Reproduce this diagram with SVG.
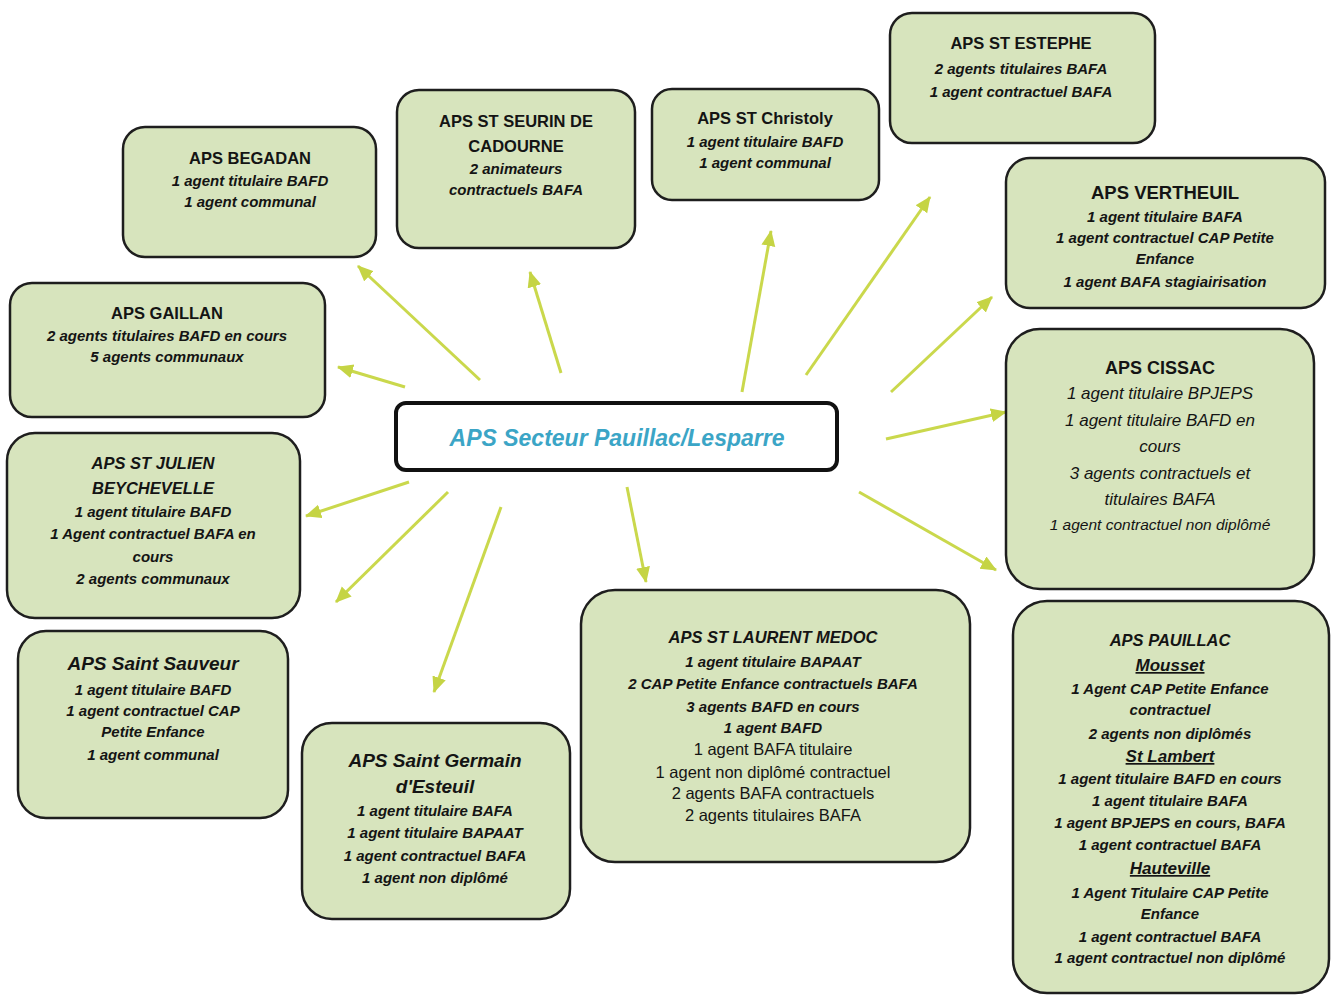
<svg xmlns="http://www.w3.org/2000/svg" width="1331" height="996" viewBox="0 0 1331 996">
<style>
.box{fill:#d7e4bd;stroke:#1e1e1e;stroke-width:2.5}
text{font-family:"Liberation Sans",Arial,sans-serif;text-anchor:middle;fill:#141414}
.t{font-size:16.5px;font-weight:bold}
.ti{font-size:16.5px;font-weight:bold;font-style:italic}
.l{font-size:15px;font-weight:bold;font-style:italic}
.r{font-size:16.5px;font-weight:normal}
.c{font-size:17px;font-style:italic}
.u{font-size:17px;font-weight:bold;font-style:italic;text-decoration:underline}
.conn line{stroke:#cad84c;stroke-width:3;marker-end:url(#ah)}
</style>
<defs>
<marker id="ah" markerUnits="userSpaceOnUse" markerWidth="18" markerHeight="16" refX="15" refY="7" orient="auto">
<path d="M0,0 L16,7 L0,14 Z" fill="#c5d444"/>
</marker>
</defs>
<rect width="1331" height="996" fill="#ffffff"/>
<g class="conn" id="connectors">
<line x1="480" y1="380" x2="358" y2="266"/>
<line x1="561" y1="373" x2="530" y2="272"/>
<line x1="742" y1="392" x2="771" y2="231"/>
<line x1="806" y1="375" x2="930" y2="197"/>
<line x1="891" y1="392" x2="992" y2="297"/>
<line x1="405" y1="387" x2="338" y2="367"/>
<line x1="886" y1="439" x2="1006" y2="412"/>
<line x1="859" y1="492" x2="996" y2="570"/>
<line x1="627" y1="487" x2="646" y2="582"/>
<line x1="501" y1="507" x2="434" y2="692"/>
<line x1="409" y1="482" x2="306" y2="516"/>
<line x1="448" y1="492" x2="336" y2="602"/>
</g>
<g id="center">
<rect x="396" y="403" width="441" height="67" rx="10" fill="#ffffff" stroke="#111" stroke-width="4"/>
<text x="617" y="446" style="font-size:23px;font-weight:bold;font-style:italic;fill:#3ba5c6">APS Secteur Pauillac/Lesparre</text>
</g>
<g id="begadan">
<rect class="box" x="123" y="127" width="253" height="130" rx="22"/>
<text class="t" x="250" y="164">APS BEGADAN</text>
<text class="l" x="250" y="186">1 agent titulaire BAFD</text>
<text class="l" x="250" y="207">1 agent communal</text>
</g>
<g id="gaillan">
<rect class="box" x="10" y="283" width="315" height="134" rx="22"/>
<text class="t" x="167" y="319">APS GAILLAN</text>
<text class="l" x="167" y="341">2 agents titulaires BAFD en cours</text>
<text class="l" x="167" y="362">5 agents communaux</text>
</g>
<g id="seurin">
<rect class="box" x="397" y="90" width="238" height="158" rx="22"/>
<text class="t" x="516" y="127">APS ST SEURIN DE</text>
<text class="t" x="516" y="152">CADOURNE</text>
<text class="l" x="516" y="174">2 animateurs</text>
<text class="l" x="516" y="195">contractuels BAFA</text>
</g>
<g id="christoly">
<rect class="box" x="652" y="89" width="227" height="111" rx="20"/>
<text class="t" x="765" y="124">APS ST Christoly</text>
<text class="l" x="765" y="147">1 agent titulaire BAFD</text>
<text class="l" x="765" y="168">1 agent communal</text>
</g>
<g id="estephe">
<rect class="box" x="890" y="13" width="265" height="130" rx="22"/>
<text class="t" x="1021" y="49">APS ST ESTEPHE</text>
<text class="l" x="1021" y="74">2 agents titulaires BAFA</text>
<text class="l" x="1021" y="97">1 agent contractuel BAFA</text>
</g>
<g id="vertheuil">
<rect class="box" x="1006" y="158" width="319" height="150" rx="24"/>
<text class="t" x="1165" y="199" style="font-size:18.5px">APS VERTHEUIL</text>
<text class="l" x="1165" y="222">1 agent titulaire BAFA</text>
<text class="l" x="1165" y="243">1 agent contractuel CAP Petite</text>
<text class="l" x="1165" y="264">Enfance</text>
<text class="l" x="1165" y="287">1 agent BAFA stagiairisation</text>
</g>
<g id="cissac">
<rect class="box" x="1006" y="329" width="308" height="260" rx="34"/>
<text class="t" x="1160" y="374" style="font-size:18px">APS CISSAC</text>
<text class="c" x="1160" y="399">1 agent titulaire BPJEPS</text>
<text class="c" x="1160" y="426">1 agent titulaire BAFD en</text>
<text class="c" x="1160" y="452">cours</text>
<text class="c" x="1160" y="479">3 agents contractuels et</text>
<text class="c" x="1160" y="505">titulaires BAFA</text>
<text class="c" x="1160" y="530" style="font-size:15.5px">1 agent contractuel non diplômé</text>
</g>
<g id="pauillac">
<rect class="box" x="1013" y="601" width="316" height="392" rx="34"/>
<text class="ti" x="1170" y="646">APS PAUILLAC</text>
<text class="u" x="1170" y="671">Mousset</text>
<text class="l" x="1170" y="694">1 Agent CAP Petite Enfance</text>
<text class="l" x="1170" y="715">contractuel</text>
<text class="l" x="1170" y="739">2 agents non diplômés</text>
<text class="u" x="1170" y="762">St Lambert</text>
<text class="l" x="1170" y="784">1 agent titulaire BAFD en cours</text>
<text class="l" x="1170" y="806">1 agent titulaire BAFA</text>
<text class="l" x="1170" y="828">1 agent BPJEPS en cours, BAFA</text>
<text class="l" x="1170" y="850">1 agent contractuel BAFA</text>
<text class="u" x="1170" y="874">Hauteville</text>
<text class="l" x="1170" y="898">1 Agent Titulaire CAP Petite</text>
<text class="l" x="1170" y="919">Enfance</text>
<text class="l" x="1170" y="942">1 agent contractuel BAFA</text>
<text class="l" x="1170" y="963">1 agent contractuel non diplômé</text>
</g>
<g id="laurent">
<rect class="box" x="581" y="590" width="389" height="272" rx="34"/>
<text class="ti" x="773" y="643">APS ST LAURENT MEDOC</text>
<text class="l" x="773" y="667">1 agent titulaire BAPAAT</text>
<text class="l" x="773" y="689">2 CAP Petite Enfance contractuels BAFA</text>
<text class="l" x="773" y="712">3 agents BAFD en cours</text>
<text class="l" x="773" y="733">1 agent BAFD</text>
<text class="r" x="773" y="755">1 agent BAFA titulaire</text>
<text class="r" x="773" y="778">1 agent non diplômé contractuel</text>
<text class="r" x="773" y="799">2 agents BAFA contractuels</text>
<text class="r" x="773" y="821">2 agents titulaires BAFA</text>
</g>
<g id="germain">
<rect class="box" x="302" y="723" width="268" height="196" rx="30"/>
<text class="ti" x="435" y="767" style="font-size:19px">APS Saint Germain</text>
<text class="ti" x="435" y="793" style="font-size:19px">d'Esteuil</text>
<text class="l" x="435" y="816">1 agent titulaire BAFA</text>
<text class="l" x="435" y="838">1 agent titulaire BAPAAT</text>
<text class="l" x="435" y="861">1 agent contractuel BAFA</text>
<text class="l" x="435" y="883">1 agent non diplômé</text>
</g>
<g id="sauveur">
<rect class="box" x="18" y="631" width="270" height="187" rx="28"/>
<text class="ti" x="153" y="670" style="font-size:19px">APS Saint Sauveur</text>
<text class="l" x="153" y="695">1 agent titulaire BAFD</text>
<text class="l" x="153" y="716">1 agent contractuel CAP</text>
<text class="l" x="153" y="737">Petite Enfance</text>
<text class="l" x="153" y="760">1 agent communal</text>
</g>
<g id="julien">
<rect class="box" x="7" y="433" width="293" height="185" rx="28"/>
<text class="ti" x="153" y="469">APS ST JULIEN</text>
<text class="ti" x="153" y="494">BEYCHEVELLE</text>
<text class="l" x="153" y="517">1 agent titulaire BAFD</text>
<text class="l" x="153" y="539">1 Agent contractuel BAFA en</text>
<text class="l" x="153" y="562">cours</text>
<text class="l" x="153" y="584">2 agents communaux</text>
</g>
</svg>
